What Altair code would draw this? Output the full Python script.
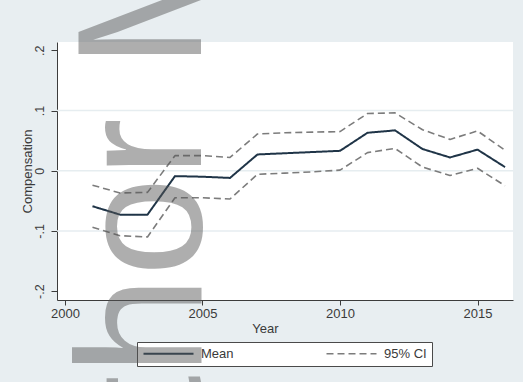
import altair as alt
import pandas as pd

# Yearly estimates with 95% confidence bounds
years = [2001, 2002, 2003, 2004, 2005, 2006, 2007, 2008,
         2009, 2010, 2011, 2012, 2013, 2014, 2015, 2016]
mean = [-0.059, -0.073, -0.073, -0.009, -0.010, -0.012, 0.027, 0.029,
        0.031, 0.033, 0.063, 0.067, 0.036, 0.022, 0.035, 0.006]
upper = [-0.024, -0.037, -0.036, 0.025, 0.025, 0.022, 0.061, 0.063,
         0.064, 0.065, 0.095, 0.096, 0.068, 0.052, 0.066, 0.034]
lower = [-0.094, -0.108, -0.110, -0.045, -0.045, -0.047, -0.006, -0.004,
         -0.002, 0.001, 0.030, 0.037, 0.006, -0.008, 0.004, -0.025]

y_ticks = [-0.2, -0.1, 0.0, 0.1, 0.2]
grid_values = [-0.1, 0.0, 0.1]
x_ticks = [2000, 2005, 2010, 2015]
legend_labels = ["Mean", "95% CI"]
watermark = "Author Manuscript"

FONT = "Liberation Sans"
NAVY = "#1f3447"
GREY = "#7c7c7c"
INK = "#3a3a3a"

rows = []
for name, kind, vals in [("mean", "Mean", mean), ("upper", "95% CI", upper), ("lower", "95% CI", lower)]:
    for yr, v in zip(years, vals):
        rows.append({"year": yr, "value": v, "series": name, "kind": kind})
df = pd.DataFrame(rows)

x_scale = alt.Scale(domain=[1999.71, 2016.29], nice=False, zero=False)
y_scale = alt.Scale(domain=[-0.2148, 0.2138], nice=False, zero=False)

# Light horizontal grid; its (right-hand) axis carries only the large
# translucent watermark title, drawn above everything else.
grid = alt.Chart(pd.DataFrame({"g": grid_values})).mark_rule(
    color="#e6edf0", strokeWidth=1.5
).encode(
    y=alt.Y("g:Q", scale=y_scale,
            axis=alt.Axis(orient="right", domain=False, ticks=False, labels=False,
                          grid=False, title=watermark, titleFont=FONT,
                          titleFontSize=178, titleFontWeight="normal",
                          titleColor="rgba(85,85,85,0.48)", titleAngle=270,
                          titleAlign="left", titleBaseline="alphabetic",
                          titleX=-313, titleY=600, titleLimit=4000, zindex=1))
)

y_label = ("datum.value == 0 ? '0' : (datum.value < 0 ? '-' : '') + "
           "replace(format(abs(datum.value), '.1f'), '0.', '.')")

legend = alt.Legend(title=None, orient="none", legendX=80, legendY=300,
                    direction="horizontal", columns=2, columnPadding=89,
                    symbolType="M-5,0H5", symbolSize=100, symbolOffset=20,
                    symbolStrokeWidth=2, labelOffset=26,
                    labelFontSize=13, labelFont=FONT, labelColor=INK,
                    fillColor="white", strokeColor="#4a4a4a",
                    padding=5, cornerRadius=0)

lines = alt.Chart(df).mark_line(strokeJoin="round").encode(
    x=alt.X("year:Q", scale=x_scale,
            axis=alt.Axis(values=x_ticks, format="d", title="Year",
                          labelFontSize=13, labelPadding=2, tickSize=5,
                          titleX=208, titleY=32, titleBaseline="alphabetic",
                          titleAnchor="start", titleAlign="center")),
    y=alt.Y("value:Q", scale=y_scale,
            axis=alt.Axis(values=y_ticks, labelExpr=y_label, title="Compensation",
                          labelAngle=270, labelAlign="center", labelBaseline="bottom",
                          labelFontSize=12.5, labelPadding=5, tickSize=6,
                          titleX=-26, titleY=129, titleBaseline="alphabetic",
                          titleAngle=270, titleAlign="center", titleAnchor="start")),
    color=alt.Color("kind:N",
                    scale=alt.Scale(domain=legend_labels, range=[NAVY, GREY]),
                    legend=legend),
    strokeDash=alt.StrokeDash("kind:N",
                              scale=alt.Scale(domain=legend_labels, range=[[1, 0], [7, 4]]),
                              legend=legend),
    strokeWidth=alt.StrokeWidth("kind:N",
                                scale=alt.Scale(domain=legend_labels, range=[2, 1.6]),
                                legend=None),
    detail="series:N",
)

chart = alt.layer(grid, lines).resolve_axis(y="independent").properties(
    width=456,
    height=258,
    autosize=alt.AutoSizeParams(type="none"),
    padding={"left": 57, "top": 42, "right": 10, "bottom": 82},
    background="#e8eef1",
).configure_view(
    fill="white", stroke=None
).configure_axis(
    domainColor="#3c3c3c", tickColor="#3c3c3c", labelColor=INK, titleColor=INK,
    labelFont=FONT, titleFont=FONT, titleFontSize=13, titleFontWeight="normal",
    grid=False, domainWidth=1, tickWidth=1
)

chart.save("out.html", embed_options={"renderer": "svg", "actions": False})
